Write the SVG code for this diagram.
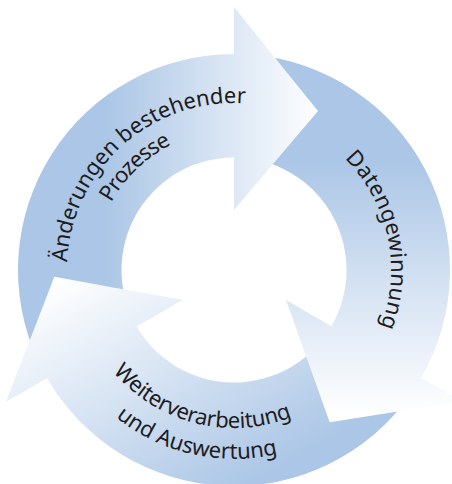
<svg xmlns="http://www.w3.org/2000/svg" xmlns:xlink="http://www.w3.org/1999/xlink" width="452" height="484" viewBox="0 0 452 484">
  <style>
    .label { font-family: "Noto Sans", "Open Sans", "Liberation Sans", sans-serif; font-size: 22px; fill: #1e1c1d; }
  </style>
  <defs>
    <!-- fills: ring blue fading to white towards each arrow head -->
    <linearGradient id="fillTop" gradientUnits="userSpaceOnUse" x1="105" y1="0" x2="320" y2="0">
      <stop offset="0" stop-color="#abc6e6"/>
      <stop offset="1" stop-color="#ffffff"/>
    </linearGradient>
    <linearGradient id="fillRight" gradientUnits="userSpaceOnUse" x1="0" y1="160" x2="0" y2="415">
      <stop offset="0" stop-color="#abc6e6"/>
      <stop offset="1" stop-color="#ffffff"/>
    </linearGradient>
    <linearGradient id="fillBottom" gradientUnits="userSpaceOnUse" x1="331.5" y1="438.9" x2="194" y2="200.7">
      <stop offset="0" stop-color="#abc6e6"/>
      <stop offset="1" stop-color="#ffffff"/>
    </linearGradient>
    <!-- text baselines, centre (234,270) -->
    <path id="pathTop1" d="M84.8,345.0 A167,167 0 0 1 325.7,130.4"/>
    <path id="pathTop2" d="M111.4,337.7 A140,140 0 0 1 306.3,150.1"/>
    <path id="pathRight" d="M242.2,113.2 A157,157 0 0 1 305.3,409.9"/>
    <path id="pathBottom1" d="M76.0,272.2 A158,158 0 0 0 371.9,347.1"/>
    <path id="pathBottom2" d="M45.2,277.6 A189,189 0 0 0 401.3,357.8"/>
    <!-- head of the lower-left arrow, repainted over the start of the top arrow -->
    <path id="headBottom" d="M6.23,401.5 L54.31,276.76 L182.04,300 Z"/>
  </defs>

  <g id="cycle">
    <g id="node-weiterverarbeitung">
      <path fill="url(#fillBottom)" d="M410.94,393.89 A216,216 0 0 1 46.94,378 L6.23,401.5 L54.31,276.76 L182.04,300 L136.57,326.25 A112.5,112.5 0 0 0 326.16,334.53 Z"/>
      <text class="label"><textPath xlink:href="#pathBottom1" href="#pathBottom1" startOffset="50%" text-anchor="middle" textLength="197" lengthAdjust="spacing">Weiterverarbeitung</textPath></text>
      <text class="label"><textPath xlink:href="#pathBottom2" href="#pathBottom2" startOffset="50%" text-anchor="middle" textLength="172" lengthAdjust="spacing">und Auswertung</textPath></text>
    </g>

    <g id="node-datengewinnung">
      <path fill="url(#fillRight)" d="M252.83,54.82 A216,216 0 0 1 421.06,378 L461.77,401.5 L329.69,422.24 L285.96,300 L331.43,326.25 A112.5,112.5 0 0 0 243.81,157.93 Z"/>
      <text class="label"><textPath xlink:href="#pathRight" href="#pathRight" startOffset="50%" text-anchor="middle" textLength="182" lengthAdjust="spacing">Datengewinnung</textPath></text>
    </g>

    <g id="node-aenderungen">
      <path fill="url(#fillTop)" d="M38.24,361.28 A216,216 0 0 1 234,54 L234,7 L318,111 L234,210 L234,157.5 A112.5,112.5 0 0 0 132.04,317.54 Z"/>
      <text class="label"><textPath xlink:href="#pathTop1" href="#pathTop1" startOffset="50%" text-anchor="middle" textLength="266" lengthAdjust="spacing">Änderungen bestehender</textPath></text>
      <text class="label"><textPath xlink:href="#pathTop2" href="#pathTop2" startOffset="50%" text-anchor="middle" textLength="85" lengthAdjust="spacing">Prozesse</textPath></text>
    </g>

    <g id="node-weiterverarbeitung-head">
      <use xlink:href="#headBottom" href="#headBottom" fill="url(#fillBottom)"/>
    </g>
  </g>
</svg>
